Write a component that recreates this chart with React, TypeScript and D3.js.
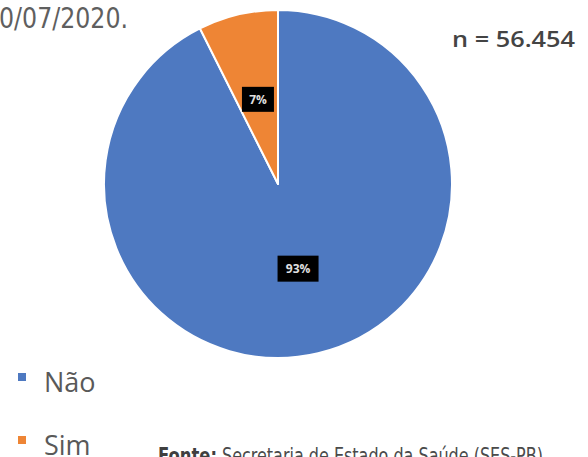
import React from "react";
import * as d3 from "d3";

const categories = ["Não", "Sim"];
const counts = [52276, 4178];
const labels = ["93%", "7%"];
const colors = ["#4E79C1", "#EE8535"];
const totalLabel = "n = 56.454";
const dateText = "0/07/2020.";
const sourceBold = "Fonte:";
const sourceText = "Secretaria de Estado da Saúde (SES-PB)";

export default function App() {
  const W = 588, H = 457;
  const cx = 278, cy = 184, r = 174;
  const pie = d3.pie<number>().sort(null).value((d) => d)(counts);
  const arc = d3.arc<d3.PieArcDatum<number>>().innerRadius(0).outerRadius(r);
  const labelBoxes = [
    { w: 41, h: 26 },
    { w: 32, h: 25 },
  ];
  const condensed = "'Liberation Sans Narrow', 'DejaVu Sans Condensed', 'Open Sans', sans-serif";
  return (
    <svg width={W} height={H} style={{ position: "absolute", left: 0, top: 0, background: "#fff" }}>
      <text x={-1} y={28} fontFamily={condensed} fontSize={28} fill="#5f5f5f" textLength={129} lengthAdjust="spacingAndGlyphs">
        {dateText}
      </text>
      <text x={452} y={47} fontFamily="'Open Sans', sans-serif" fontWeight={600} fontSize={22} fill="#444" textLength={123} lengthAdjust="spacingAndGlyphs">
        {totalLabel}
      </text>
      <g transform={`translate(${cx},${cy})`}>
        {pie.map((p, i) => (
          <path key={i} d={arc(p) || ""} fill={colors[i]} stroke="#fff" strokeWidth={2} strokeLinejoin="round" />
        ))}
        {pie.map((p, i) => {
          const [lx, ly] = arc.centroid(p);
          const b = labelBoxes[i];
          return (
            <g key={"l" + i} transform={`translate(${lx},${ly})`}>
              <rect x={-b.w / 2} y={-b.h / 2} width={b.w} height={b.h} fill="#000" />
              <text x={0} y={4.5} textAnchor="middle" fontFamily="'Open Sans', sans-serif" fontWeight="bold" fontSize={12} fill="#e0e0e0">
                {labels[i]}
              </text>
            </g>
          );
        })}
      </g>
      {categories.map((c, i) => (
        <g key={c} transform={`translate(18,${373 + i * 63})`}>
          <rect x={0} y={0} width={8} height={8} fill={colors[i]} />
          <text x={26} y={19} fontFamily="'Open Sans', sans-serif" fontSize={27} fill="#595959">
            {c}
          </text>
        </g>
      ))}
      <text x={158} y={463} fontFamily={condensed} fontWeight="bold" fontSize={21} fill="#3f3f3f" textLength={59} lengthAdjust="spacingAndGlyphs">
        {sourceBold}
      </text>
      <text x={222} y={463} fontFamily={condensed} fontSize={21} fill="#4a4a4a" textLength={321} lengthAdjust="spacingAndGlyphs">
        {sourceText}
      </text>
    </svg>
  );
}
